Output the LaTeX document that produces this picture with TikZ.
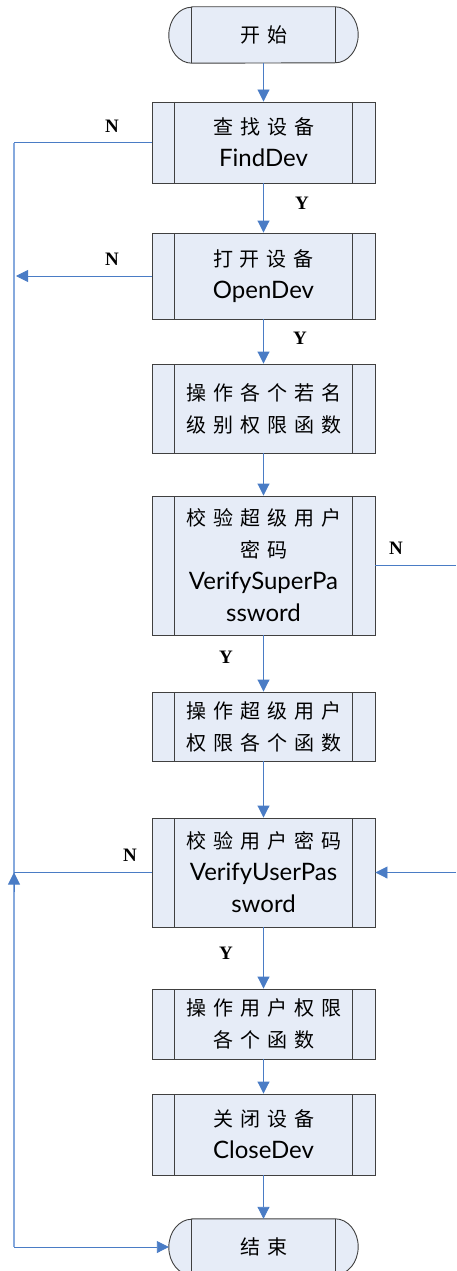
\documentclass[tikz,border=0pt]{standalone}
\usepackage{fontspec}
\setmainfont{Lato}
\newfontfamily\cjk[LetterSpace=35]{Noto Sans CJK SC}
\newfontfamily\ynfont{Liberation Serif}
\usetikzlibrary{arrows.meta,backgrounds}
\definecolor{boxfill}{HTML}{E6ECF7}
\definecolor{boxline}{HTML}{404040}
\definecolor{arrowblue}{HTML}{4A7CC5}
\definecolor{loopblue}{HTML}{86A9DD}
\newcommand\zh[1]{{\cjk\fontsize{20}{32}\selectfont #1}}
\newcommand\drawterminal[1]{%
  \draw[boxline, fill=boxfill, line width=0.9pt]
    ([xshift=23pt]#1.north west) -- ([xshift=-23pt]#1.north east)
    arc[start angle=90, end angle=-90, x radius=23pt, y radius=28pt]
    -- ([xshift=23pt]#1.south west)
    arc[start angle=270, end angle=90, x radius=23pt, y radius=28pt] -- cycle;
  \draw[boxline, line width=0.9pt]
    ([xshift=23pt]#1.north west) -- ([xshift=23pt]#1.south west)
    ([xshift=-23pt]#1.north east) -- ([xshift=-23pt]#1.south east);}
\tikzset{
  proc/.style={rectangle, draw=boxline, fill=boxfill, line width=0.9pt,
    minimum width=223pt, inner sep=0pt, align=center,
    font=\fontsize{24}{32}\selectfont,
    path picture={\draw[boxline, line width=0.9pt]
      ([xshift=22.5pt]path picture bounding box.north west) -- ([xshift=22.5pt]path picture bounding box.south west)
      ([xshift=-22.5pt]path picture bounding box.north east) -- ([xshift=-22.5pt]path picture bounding box.south east);}},
  term/.style={rectangle, draw=none, minimum width=189pt, minimum height=56pt,
    inner sep=0pt, align=center},
  conn/.style={draw=arrowblue, line width=0.9pt},
  arr/.style={conn, -{Triangle[width=12pt,length=12pt]}},
  loopline/.style={draw=loopblue, line width=1.3pt},
  yn/.style={font=\ynfont\bfseries\fontsize{19}{19}\selectfont, inner sep=0pt}
}
\begin{document}
\begin{tikzpicture}[x=1pt, y=-1pt]
\useasboundingbox (0,0) rectangle (456,1271);

\node[term] (start) at (263.5,35) {\zh{开始}};
\node[proc, minimum height=81pt] (fd) at (263.5,142.5) {\zh{查找设备}\\FindDev};
\node[proc, minimum height=86pt] (od) at (263.5,276) {\zh{打开设备}\\OpenDev};
\node[proc, minimum height=89pt] (anon) at (263.5,408.5) {\zh{操作各个若名}\\\zh{级别权限函数}};
\node[proc, minimum height=139pt] (vs) at (263.5,565.5) {\zh{校验超级用户}\\\zh{密码}\\VerifySuperPa\\ssword};
\node[proc, minimum height=69pt] (su) at (263.5,726.5) {\zh{操作超级用户}\\\zh{权限各个函数}};
\node[proc, minimum height=109pt] (vu) at (263.5,872.5) {\zh{校验用户密码}\\VerifyUserPas\\sword};
\node[proc, minimum height=70pt] (uf) at (263.5,1024) {\zh{操作用户权限}\\\zh{各个函数}};
\node[proc, minimum height=81pt] (cd) at (263.5,1134.5) {\zh{关闭设备}\\CloseDev};
\node[term] (end) at (263.5,1247) {\zh{结束}};

\begin{scope}[on background layer]
\drawterminal{start}
\drawterminal{end}
\end{scope}

% main flow
\draw[arr] (start) -- (fd);
\draw[arr] (fd) -- (od);
\draw[arr] (od) -- (anon);
\draw[arr] (anon) -- (vs);
\draw[arr] (vs) -- (su);
\draw[arr] (su) -- (vu);
\draw[arr] (vu) -- (uf);
\draw[arr] (uf) -- (cd);
\draw[arr] (cd) -- (end);

% left loop
\coordinate (lt) at (14,142.5);
\coordinate (lb) at (14,1247);
\draw[loopline] (lt) -- (lb);
\draw[conn] (fd.west) -- (lt);
\draw[arr] (lb) -- (end.west);
\coordinate (lo) at (16,276);
\draw[arr] (od.west) -- (lo);
\coordinate (lu) at (14,872.5);
\coordinate (lu0) at (14,892);
\draw[conn] (vu.west) -- (lu);
\draw[arr] (lu0) -- (lu);

% right loop
\coordinate (rs) at (456,565.5);
\coordinate (ru) at (456,872.5);
\draw[conn] (vs.east) -- (rs);
\draw[arr] (ru) -- (vu.east);

% labels
\node[yn] (n1) at (112,126) {N};
\node[yn] (y1) at (302,203) {Y};
\node[yn] (n2) at (112,259) {N};
\node[yn] (y2) at (300,338) {Y};
\node[yn] (n3) at (396,548) {N};
\node[yn] (y3) at (226,657) {Y};
\node[yn] (n4) at (130,855) {N};
\node[yn] (y4) at (226,953) {Y};
\end{tikzpicture}
\end{document}
